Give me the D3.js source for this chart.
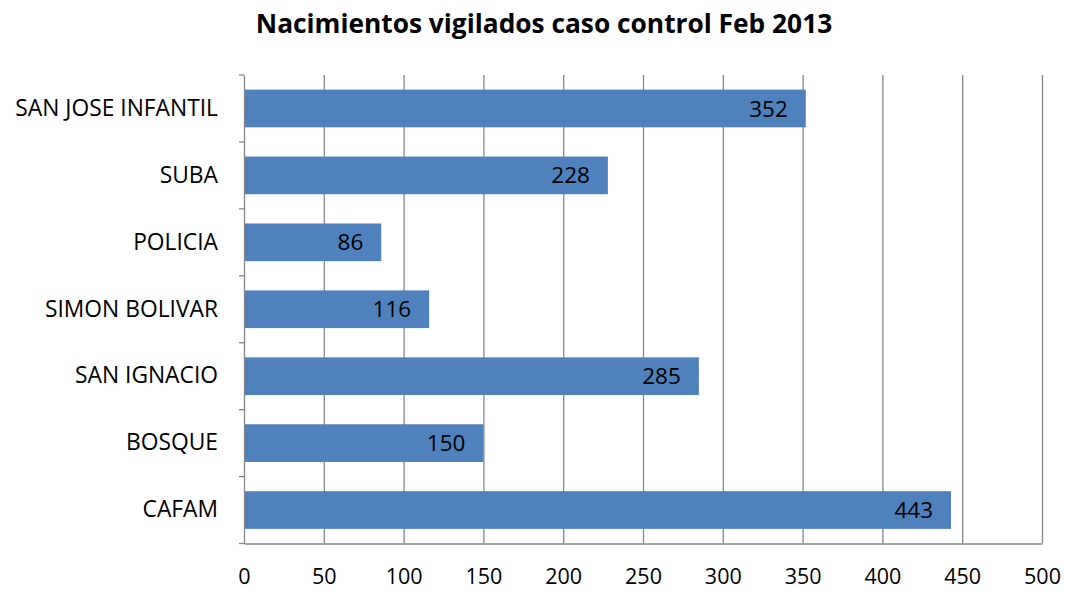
<!DOCTYPE html>
<html>
<head>
<meta charset="utf-8">
<script src="https://cdn.jsdelivr.net/npm/d3@7"></script>
<style>
  body { margin: 0; background: #fff; }
  svg { font-family: "Open Sans", "Liberation Sans", sans-serif; }
</style>
</head>
<body>
<svg id="chart" width="1066" height="590"></svg>
<script>
const categories = ["SAN JOSE INFANTIL", "SUBA", "POLICIA", "SIMON BOLIVAR", "SAN IGNACIO", "BOSQUE", "CAFAM"];
const values = [352, 228, 86, 116, 285, 150, 443];
const xTicks = [0, 50, 100, 150, 200, 250, 300, 350, 400, 450, 500];
const title = "Nacimientos vigilados caso control Feb 2013";

const svg = d3.select("#chart");
const margin = { top: 75, right: 24, bottom: 46.5, left: 244 },
  width = 1066 - margin.left - margin.right,
  height = 590 - margin.top - margin.bottom;

const xScale = d3.scaleLinear().domain([0, 500]).range([0, width]);
const yScale = d3.scaleBand().domain(categories).range([0, height]).paddingInner(0.437).paddingOuter(0.2185);

svg.append("text")
  .attr("x", 544)
  .attr("y", 33)
  .attr("text-anchor", "middle")
  .attr("font-size", 26.3)
  .attr("font-weight", "bold")
  .text(title);

const g = svg.append("g").attr("transform", "translate(" + margin.left + "," + margin.top + ")");

// vertical gridlines
g.selectAll(".grid")
  .data(xTicks.slice(1))
  .join("line")
  .attr("x1", d => xScale(d) + 0.5)
  .attr("x2", d => xScale(d) + 0.5)
  .attr("y1", 0)
  .attr("y2", height)
  .attr("stroke", "#868686")
  .attr("stroke-width", 1.3);

// bars
g.selectAll(".bar")
  .data(values)
  .join("rect")
  .attr("x", 0)
  .attr("y", (d, i) => yScale(categories[i]))
  .attr("width", d => xScale(d))
  .attr("height", yScale.bandwidth())
  .attr("fill", "#4F81BD");

// value labels
g.selectAll(".lbl")
  .data(values)
  .join("text")
  .attr("x", d => xScale(d) - 18)
  .attr("y", (d, i) => yScale(categories[i]) + yScale.bandwidth() / 2)
  .attr("dy", "0.36em")
  .attr("text-anchor", "end")
  .attr("font-size", 22.5)
  .attr("fill", "#000")
  .text(d => d);

// x axis
const xAxis = d3.axisBottom(xScale).tickValues(xTicks).tickSize(0).tickPadding(25.5);
const gx = g.append("g").attr("transform", "translate(0," + height + ")").call(xAxis);
gx.select(".domain").attr("stroke", "#868686").attr("stroke-width", 1.3);
gx.selectAll("text").attr("font-size", 21.5).attr("fill", "#000").attr("font-family", "Open Sans");

// y axis
const yAxis = d3.axisLeft(yScale).tickSize(0).tickPadding(26);
const gy = g.append("g").call(yAxis);
gy.select(".domain").attr("stroke", "#868686").attr("stroke-width", 1.3);
gy.selectAll("text").attr("font-size", 22.8).attr("fill", "#000").attr("font-family", "Open Sans");

// category boundary tick marks
const step = yScale.step();
g.selectAll(".ytick")
  .data(d3.range(categories.length + 1))
  .join("line")
  .attr("x1", -5)
  .attr("x2", 0)
  .attr("y1", i => Math.min(i * step, height))
  .attr("y2", i => Math.min(i * step, height))
  .attr("stroke", "#868686")
  .attr("stroke-width", 1.3);
</script>
</body>
</html>
